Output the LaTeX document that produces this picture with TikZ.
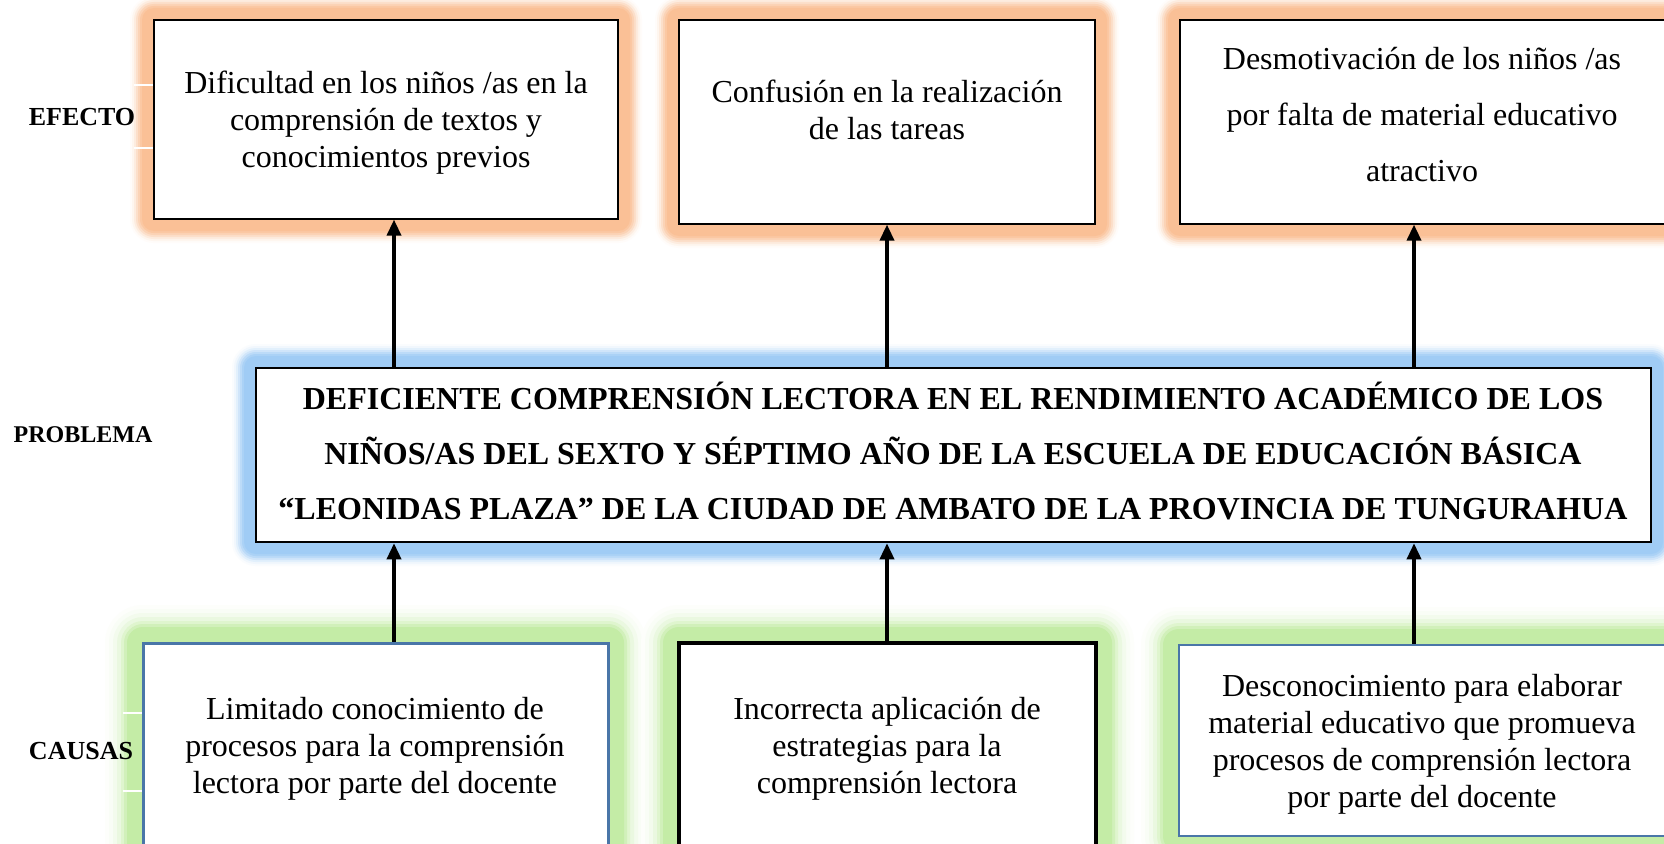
\documentclass[tikz,border=0pt]{standalone}
\usepackage{fontspec}
\setmainfont{Liberation Serif}
\usetikzlibrary{arrows.meta}
\definecolor{glowO}{RGB}{250,192,150}
\definecolor{glowB}{RGB}{160,204,245}
\definecolor{glowG}{RGB}{196,236,166}
\definecolor{cblue}{RGB}{74,118,168}
\newcommand\myglow[5]{%
  \foreach \d/\p in {24/5,22/15,20/30,18/50,16/70,14/88,12/100}{%
    \fill[#1!\p!white, rounded corners=\d pt] ({#2-\d},{#3-\d}) rectangle ({#4+\d},{#5+\d});}}
\newcommand\mysoftglow[5]{%
  \foreach \d/\p in {38/4,34/10,30/20,26/35,22/55,19/78,16/100}{%
    \fill[#1!\p!white, rounded corners=\d pt] ({#2-\d},{#3-\d}) rectangle ({#4+\d},{#5+\d});}}
\begin{document}
\begin{tikzpicture}[x=1pt,y=-1pt,
  box/.style={draw, fill=white, inner sep=0pt},
  efbox/.style={box, line width=1.2pt},
  txt/.style={align=center, inner sep=0pt, font=\fontsize{32}{37}\selectfont},
  ptxt/.style={align=center, inner sep=0pt, font=\bfseries\fontsize{32}{55}\selectfont},
  lbl/.style={inner sep=0pt, font=\bfseries\fontsize{26}{30}\selectfont},
  arr/.style={line width=3.5pt, -{Triangle[length=16pt,width=14pt]}},
  wl/.style={white, line width=1.5pt}]
\useasboundingbox (0,0) rectangle (1664,843);
\clip (0,0) rectangle (1664,843);
\fill[white] (0,0) rectangle (1664,843);
% glows
\myglow{glowO}{154}{20}{618}{219}
\myglow{glowO}{679}{20}{1095}{224}
\myglow{glowO}{1180}{20}{1700}{224}
\myglow{glowB}{256}{368}{1651}{542}
\mysoftglow{glowG}{143}{643}{608}{880}
\mysoftglow{glowG}{679}{643}{1096}{880}
\mysoftglow{glowG}{1179}{645}{1700}{836}
% white tick lines by labels
\draw[wl] (134,85) -- (154,85);
\draw[wl] (134,148) -- (154,148);
\draw[wl] (123,713) -- (143,713);
\draw[wl] (123,791) -- (143,791);
% boxes
\node[efbox, minimum width=464pt, minimum height=199pt] (e1) at (386,119.5) {};
\node[efbox, minimum width=416pt, minimum height=204pt] (e2) at (887,122) {};
\node[efbox, minimum width=520pt, minimum height=204pt] (e3) at (1440,122) {};
\node[box, line width=2.5pt, minimum width=1395pt, minimum height=174pt] (p) at (953.5,455) {};
\node[box, draw=cblue, line width=3pt, minimum width=465pt, minimum height=237pt] (c1) at (375.5,761.5) {};
\node[box, line width=4pt, minimum width=417pt, minimum height=237pt] (c2) at (887.5,761.5) {};
\node[box, draw=cblue, line width=2.5pt, minimum width=521pt, minimum height=191pt] (c3) at (1439.5,740.5) {};
% texts
\node[txt] (t1) at (386,123) {Dificultad en los niños /as en la\\comprensión de textos y\\conocimientos previos};
\node[txt] (t2) at (887,109.5) {Confusión en la realización\\de las tareas};
\node[txt, font=\fontsize{32}{56}\selectfont] (t3) at (1422,114.5) {Desmotivación de los niños /as\\por falta de material educativo\\atractivo};
\node[ptxt] (tp) at (953,451) {DEFICIENTE COMPRENSIÓN LECTORA EN EL RENDIMIENTO ACADÉMICO DE LOS\\NIÑOS/AS DEL SEXTO Y SÉPTIMO AÑO DE LA ESCUELA DE EDUCACIÓN BÁSICA\\“LEONIDAS PLAZA” DE LA CIUDAD DE AMBATO DE LA PROVINCIA DE TUNGURAHUA};
\node[txt] (u1) at (375,749) {Limitado conocimiento de\\procesos para la comprensión\\lectora por parte del docente};
\node[txt] (u2) at (887,749) {Incorrecta aplicación de\\estrategias para la\\comprensión lectora};
\node[txt] (u3) at (1422,744.5) {Desconocimiento para elaborar\\material educativo que promueva\\procesos de comprensión lectora\\por parte del docente};
% labels
\node[lbl] (l1) at (82,117) {EFECTO};
\node[lbl, font=\bfseries\fontsize{24}{28}\selectfont] (l2) at (83,435) {PROBLEMA};
\node[lbl] (l3) at (81,751) {CAUSAS};
% arrows
\coordinate (x1) at (394,0);
\coordinate (x2) at (887,0);
\coordinate (x3) at (1414,0);
\draw[arr] (p.north -| x1) -- (e1.south -| x1);
\draw[arr] (p.north -| x2) -- (e2.south -| x2);
\draw[arr] (p.north -| x3) -- (e3.south -| x3);
\draw[arr] (c1.north -| x1) -- (p.south -| x1);
\draw[arr] (c2.north -| x2) -- (p.south -| x2);
\draw[arr] (c3.north -| x3) -- (p.south -| x3);
\end{tikzpicture}
\end{document}
